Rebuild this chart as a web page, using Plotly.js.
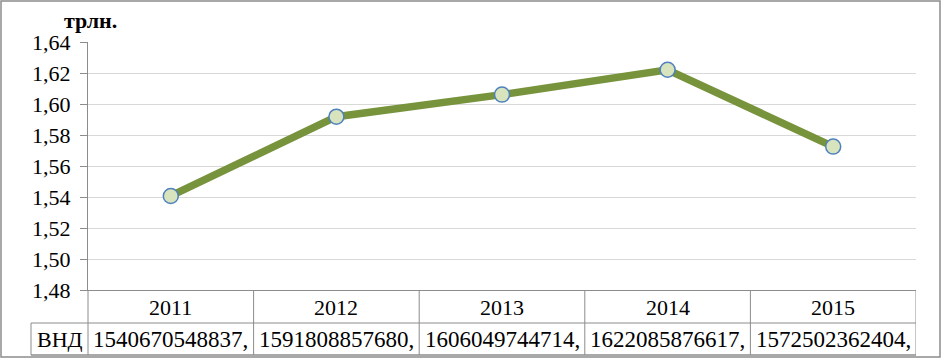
<!DOCTYPE html>
<html><head><meta charset="utf-8">
<script src="https://cdn.plot.ly/plotly-3.0.1.min.js"></script>
<style>html,body{margin:0;padding:0;background:#fff}#c{width:944px;height:359px}</style>
</head><body><div id="c"></div>
<script>
const years = ['2011','2012','2013','2014','2015'];
const seriesName = 'ВНД';
const gni = [1540670548837, 1591808857680, 1606049744714, 1622085876617, 1572502362404];
const unitLabel = 'трлн.';
const yTicks = [1.48,1.50,1.52,1.54,1.56,1.58,1.60,1.62,1.64];

(function(){
const L=88, R=916, T=42, B=290, W=944, H=359;
const px = x => (x-L)/(R-L);
const py = y => (B-y)/(B-T);
const FAM = 'Liberation Serif';
const xs = years.map((_,i)=>i);
const trillions = gni.map(v=>v/1e12);
const gray = '#8C8C8C';

const shapes = [];
shapes.push({type:'rect',xref:'paper',yref:'paper',x0:px(1),x1:px(940),y0:py(1),y1:py(357),line:{color:gray,width:1.5}});
const rowTop = py(290), rowMid = py(323), rowBot = py(355);
shapes.push({type:'line',xref:'paper',yref:'paper',x0:px(31),x1:1,y0:rowMid,y1:rowMid,line:{color:gray,width:1}});
shapes.push({type:'line',xref:'paper',yref:'paper',x0:px(31),x1:1,y0:rowBot,y1:rowBot,line:{color:gray,width:1.5}});
shapes.push({type:'line',xref:'paper',yref:'paper',x0:px(31),x1:px(31),y0:rowMid,y1:rowBot,line:{color:gray,width:1}});
shapes.push({type:'line',xref:'paper',yref:'paper',x0:0,x1:0,y0:rowTop,y1:rowBot,line:{color:gray,width:1}});
for(let i=0;i<years.length;i++){
  shapes.push({type:'line',xref:'x',yref:'paper',x0:i+0.5,x1:i+0.5,y0:rowTop,y1:rowBot,line:{color:gray,width:1}});
}
const annotations = [];
annotations.push({text:'<b>'+unitLabel+'</b>',xref:'paper',yref:'paper',x:px(90),y:py(21),showarrow:false,font:{family:FAM,size:22,color:'#000'},xanchor:'center',yanchor:'middle'});
annotations.push({text:seriesName,xref:'paper',yref:'paper',x:px(59.5),y:py(339),showarrow:false,font:{family:FAM,size:22,color:'#000'},xanchor:'center',yanchor:'middle'});
years.forEach((yr,i)=>{
  annotations.push({text:yr,xref:'x',yref:'paper',x:i,y:py(307),showarrow:false,font:{family:FAM,size:22,color:'#000'},xanchor:'center',yanchor:'middle'});
  annotations.push({text:String(gni[i])+',',xref:'x',yref:'paper',x:i,y:py(339),showarrow:false,font:{family:FAM,size:23,color:'#000'},xanchor:'center',yanchor:'middle'});
});

const trace = {
  x: xs, y: trillions, type:'scatter', mode:'lines+markers', name: seriesName,
  line:{color:'#77933C',width:7.5},
  marker:{size:15,color:'#D7E4BD',line:{color:'#4F81BD',width:1.5}},
  cliponaxis:false
};
const layout = {
  width:W,height:H,
  margin:{l:L,r:W-R,t:T,b:H-B,pad:0},
  paper_bgcolor:'#fff',plot_bgcolor:'#fff',
  separators:', ',
  showlegend:false,
  xaxis:{range:[-0.5,4.5],showticklabels:false,ticks:'',showgrid:false,zeroline:false,showline:true,linecolor:gray,linewidth:1},
  yaxis:{range:[1.48,1.64],tickvals:yTicks,tickformat:'.2f',ticks:'outside',ticklen:7,tickcolor:gray,
         showline:true,linecolor:gray,linewidth:1,showgrid:true,gridcolor:'#D9D9D9',gridwidth:1,zeroline:false,
         tickfont:{family:FAM,size:22,color:'#000'},ticklabelstandoff:5},
  shapes:shapes, annotations:annotations
};
Plotly.newPlot('c',[trace],layout,{staticPlot:true,displayModeBar:false});
})();
</script></body></html>
